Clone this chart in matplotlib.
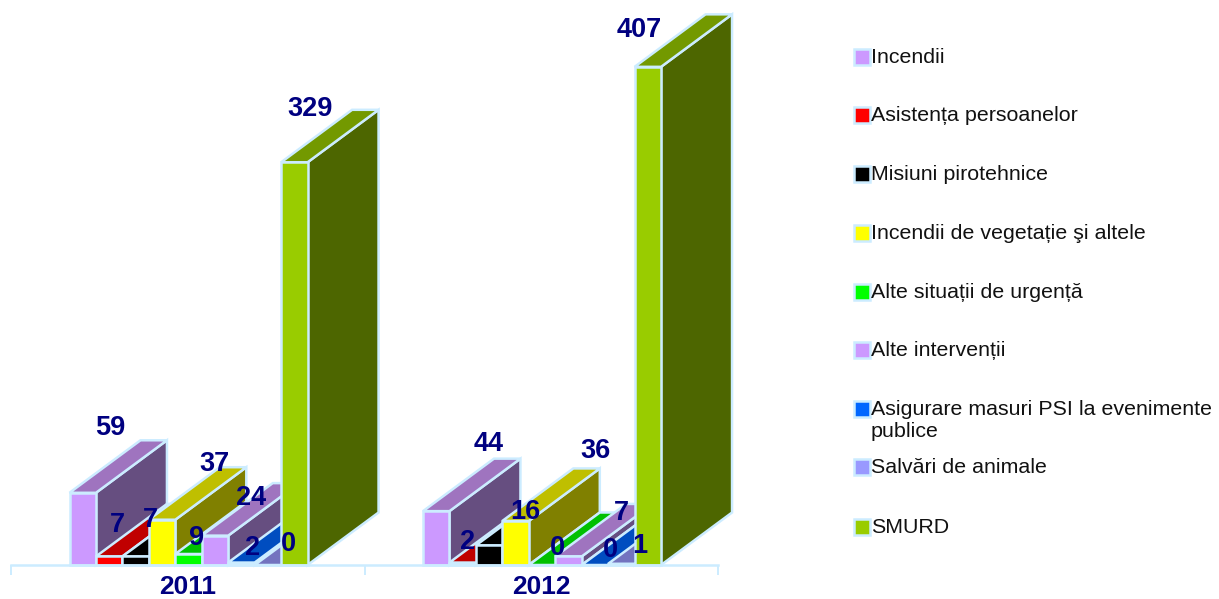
import matplotlib
matplotlib.use("Agg")
import matplotlib.pyplot as plt
from matplotlib.patches import Polygon, Rectangle

plt.rcParams['font.family'] = ['Liberation Sans', 'DejaVu Sans']

W, H = 1219, 599

years = ['2011', '2012']
series = ['Incendii', 'Asistența persoanelor', 'Misiuni pirotehnice',
          'Incendii de vegetație şi altele', 'Alte situații de urgență',
          'Alte intervenții', 'Asigurare masuri PSI la evenimente\npublice',
          'Salvări de animale', 'SMURD']
values_2011 = [59, 7, 7, 37, 9, 24, 2, 0, 329]
values_2012 = [44, 2, 16, 36, 0, 7, 0, 1, 407]

# culori: fata, sus, lateral
front = ['#CC99FF', '#FF0000', '#000000', '#FFFF00', '#00FF00', '#CC99FF', '#0066FF', '#9999FF', '#99CC00']
top = ['#9F74BF', '#C00000', '#000000', '#BFBF00', '#00C000', '#9F74BF', '#004DC0', '#7373BF', '#739900']
side = ['#664E80', '#800000', '#000000', '#808000', '#008000', '#664E80', '#003380', '#4D4D80', '#4D6600']
edge = '#CCECFF'

# pozitii etichete in pixeli (puse de mana in original)
label_px_2011 = [(110, 428), (117, 525), (150, 520), (214, 464), (197, 538),
                 (251, 498), (253, 548), (288, 544), (310, 109)]
label_px_2012 = [(489, 444), (468, 542), (525, 512), (595, 451), (557, 548),
                 (621, 513), (610, 550), (640, 546), (639, 30)]
legend_y = [57, 115, 174, 233, 292, 350, 409, 467, 527]

# scara: o categorie = 353.5 px, o unitate = 1.224 px
px_x = 353.5
px_y = 1.224
x0, base = 11, 565
bar_w = 26.45 / px_x
first = (69.5 - x0) / px_x
dx = 71 / px_x
dy = 52.5 / px_y

fig = plt.figure(figsize=(W / 100, H / 100), dpi=100)
ax = fig.add_axes([0, 0, 1, 1])
ax.set_xlim(-x0 / px_x, (W - x0) / px_x)
ax.set_ylim(-(H - base) / px_y, base / px_y)

for g, vals in enumerate([values_2011, values_2012]):
    for i, v in enumerate(vals):
        x = g + first + i * bar_w
        style = dict(edgecolor=edge, linewidth=1.8, joinstyle='miter')
        ax.add_patch(Polygon([(x + bar_w, 0), (x + bar_w + dx, dy), (x + bar_w + dx, v + dy), (x + bar_w, v)],
                             facecolor=side[i], **style))
        ax.add_patch(Polygon([(x, v), (x + bar_w, v), (x + bar_w + dx, v + dy), (x + dx, v + dy)],
                             facecolor=top[i], **style))
        ax.add_patch(Rectangle((x, 0), bar_w, v, facecolor=front[i], **style))

# axa categoriilor
for s in ['left', 'right', 'top']:
    ax.spines[s].set_visible(False)
ax.spines['bottom'].set_position(('data', 0))
ax.spines['bottom'].set_bounds(0, 2)
ax.spines['bottom'].set_color(edge)
ax.spines['bottom'].set_linewidth(1.8)
ax.set_yticks([])
ax.set_xticks([0, 1, 2])
ax.set_xticklabels([])
ax.tick_params(axis='x', which='major', length=7.2, width=1.4, color=edge)
ax.set_xticks([0.5, 1.5], minor=True)
ax.set_xticklabels(years, minor=True, fontsize=19, fontweight='bold', color='#000080')
ax.tick_params(axis='x', which='minor', length=0, pad=7)

# strat in pixeli pentru etichete si legenda
over = fig.add_axes([0, 0, 1, 1], facecolor='none')
over.set_xlim(0, W)
over.set_ylim(H, 0)
over.axis('off')

for vals, pos in [(values_2011, label_px_2011), (values_2012, label_px_2012)]:
    for v, (lx, ly) in zip(vals, pos):
        over.text(lx, ly, str(v), ha='center', va='center', fontsize=19.5,
                  fontweight='bold', color='#000080')

for name, color, ly in zip(series, front, legend_y):
    over.add_patch(Rectangle((854, ly - 8), 15.5, 15.5, facecolor=color, edgecolor=edge, linewidth=1.8))
    over.text(871, ly - 9, name, ha='left', va='top', fontsize=15.4, color='#111111', linespacing=1.2)

fig.savefig('out.png', dpi=100)
